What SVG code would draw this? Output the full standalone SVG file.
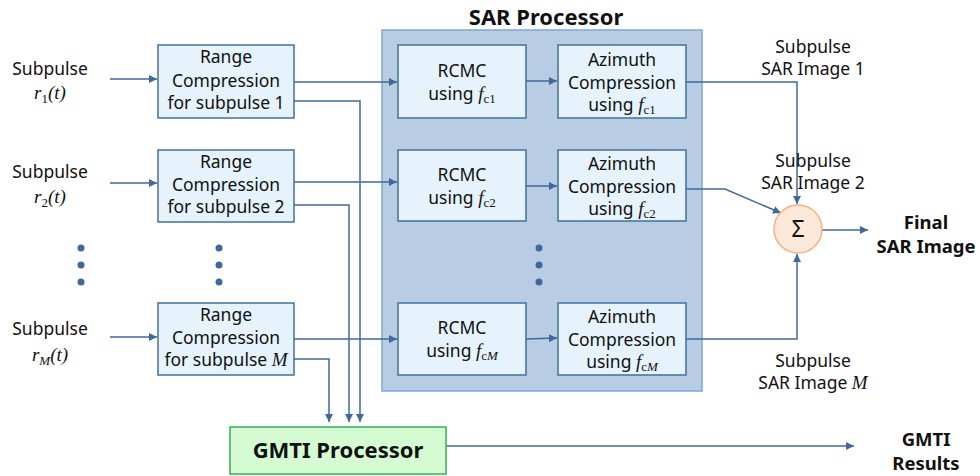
<svg xmlns="http://www.w3.org/2000/svg" width="980" height="476" viewBox="0 0 980 476">
<defs>
<marker id="ah" viewBox="0 0 10 10" refX="10" refY="5" markerWidth="8" markerHeight="8" markerUnits="userSpaceOnUse" orient="auto">
<path d="M0,0 L10,5 L0,10 z" fill="#41689c"/>
</marker>
</defs>
<style>
text{font-family:"Noto Sans","DejaVu Sans",sans-serif;font-size:17.5px;fill:#111;text-anchor:middle}
.b{font-weight:bold}
.o{font-size:18.5px}
.m{font-family:"Liberation Serif","DejaVu Serif",serif;font-style:italic;font-size:19px}
.s{font-family:"Liberation Serif","DejaVu Serif",serif;font-style:normal;font-size:13px}
.box{fill:#e6f3fc;stroke:#41719c;stroke-width:1.5}
.c{fill:none;stroke:#41689c;stroke-width:1.5}
.dot{fill:#41689c}
</style>
<rect width="980" height="476" fill="#fff"/>
<g id="sar-processor">
<rect x="382" y="30" width="320" height="361" fill="#b8cce4" stroke="#7ea6d8" stroke-width="1.5"/>
<text x="546" y="25" class="b" style="font-size:22px">SAR Processor</text>
</g>
<g id="connectors">
<path class="c" d="M110,79 H157" marker-end="url(#ah)"/>
<path class="c" d="M110,183 H157" marker-end="url(#ah)"/>
<path class="c" d="M110,337 H157" marker-end="url(#ah)"/>
<path class="c" d="M294,82 H397" marker-end="url(#ah)"/>
<path class="c" d="M294,182 H397" marker-end="url(#ah)"/>
<path class="c" d="M294,339 H397" marker-end="url(#ah)"/>
<path class="c" d="M294,101 H360 V422" marker-end="url(#ah)"/>
<path class="c" d="M294,205 H349 V422" marker-end="url(#ah)"/>
<path class="c" d="M294,359 H329 V422" marker-end="url(#ah)"/>
<path class="c" d="M526,81 H557" marker-end="url(#ah)"/>
<path class="c" d="M526,186 H557" marker-end="url(#ah)"/>
<path class="c" d="M526,339 L557,338" marker-end="url(#ah)"/>
<path class="c" d="M686,82 H797 V204" marker-end="url(#ah)"/>
<path class="c" d="M686,189 H725 L781,213" marker-end="url(#ah)"/>
<path class="c" d="M686,339 H797 V254" marker-end="url(#ah)"/>
<path class="c" d="M822,230 H868" marker-end="url(#ah)"/>
<path class="c" d="M446,446 H854" marker-end="url(#ah)"/>
</g>
<g id="input-labels">
<text x="50" y="75">Subpulse</text>
<text x="50" y="99" class="m">r<tspan class="s" dy="4">1</tspan><tspan dy="-4">(t)</tspan></text>
<text x="50" y="178">Subpulse</text>
<text x="50" y="203" class="m">r<tspan class="s" dy="4">2</tspan><tspan dy="-4">(t)</tspan></text>
<text x="50" y="335">Subpulse</text>
<text x="50" y="361" class="m">r<tspan class="s" dy="4" style="font-style:italic">M</tspan><tspan dy="-4">(t)</tspan></text>
</g>
<g id="dots">
<circle class="dot" cx="81" cy="248" r="3.5"/><circle class="dot" cx="81" cy="265" r="3.5"/><circle class="dot" cx="81" cy="282" r="3.5"/>
<circle class="dot" cx="219" cy="248" r="3.5"/><circle class="dot" cx="219" cy="265" r="3.5"/><circle class="dot" cx="219" cy="282" r="3.5"/>
<circle class="dot" cx="539" cy="248" r="3.5"/><circle class="dot" cx="539" cy="265" r="3.5"/><circle class="dot" cx="539" cy="282" r="3.5"/>
</g>
<g id="range-1">
<rect class="box" x="158" y="45" width="136" height="73"/>
<text x="226" y="63">Range</text><text x="226" y="87">Compression</text><text x="226" y="109">for subpulse  1</text>
</g>
<g id="range-2">
<rect class="box" x="158" y="150" width="136" height="72"/>
<text x="226" y="168">Range</text><text x="226" y="191">Compression</text><text x="226" y="213">for subpulse  2</text>
</g>
<g id="range-M">
<rect class="box" x="158" y="303" width="136" height="72"/>
<text x="226" y="321">Range</text><text x="226" y="344">Compression</text><text x="226" y="366">for subpulse  <tspan class="m">M</tspan></text>
</g>
<g id="rcmc-1">
<rect class="box" x="398" y="45" width="128" height="73"/>
<text x="462" y="77">RCMC</text>
<text x="462" y="100">using <tspan class="m">f</tspan><tspan class="s" dy="3">c1</tspan></text>
</g>
<g id="rcmc-2">
<rect class="box" x="398" y="150" width="128" height="71"/>
<text x="462" y="181">RCMC</text>
<text x="462" y="204">using <tspan class="m">f</tspan><tspan class="s" dy="3">c2</tspan></text>
</g>
<g id="rcmc-M">
<rect class="box" x="398" y="303" width="128" height="72"/>
<text x="462" y="334">RCMC</text>
<text x="462" y="357">using <tspan class="m">f</tspan><tspan class="s" dy="3">c<tspan style="font-style:italic">M</tspan></tspan></text>
</g>
<g id="azimuth-1">
<rect class="box" x="558" y="45" width="128" height="73"/>
<text x="622" y="66">Azimuth</text><text x="622" y="89">Compression</text>
<text x="622" y="111">using <tspan class="m">f</tspan><tspan class="s" dy="3">c1</tspan></text>
</g>
<g id="azimuth-2">
<rect class="box" x="558" y="150" width="128" height="71"/>
<text x="622" y="170">Azimuth</text><text x="622" y="193">Compression</text>
<text x="622" y="215">using <tspan class="m">f</tspan><tspan class="s" dy="3">c2</tspan></text>
</g>
<g id="azimuth-M">
<rect class="box" x="558" y="303" width="128" height="72"/>
<text x="622" y="323">Azimuth</text><text x="622" y="346">Compression</text>
<text x="622" y="368">using <tspan class="m">f</tspan><tspan class="s" dy="3">c<tspan style="font-style:italic">M</tspan></tspan></text>
</g>
<g id="sum">
<circle cx="798" cy="229" r="24" fill="#fde9d9" stroke="#f4b183" stroke-width="1.5"/>
<text x="798" y="237" style="font-size:23px">Σ</text>
</g>
<g id="output-labels">
<text x="813" y="53">Subpulse</text><text x="813" y="75">SAR Image 1</text>
<text x="813" y="167">Subpulse</text><text x="813" y="189">SAR Image 2</text>
<text x="813" y="367">Subpulse</text><text x="813" y="389">SAR Image <tspan class="m">M</tspan></text>
<text x="926" y="229" class="b o">Final</text><text x="926" y="253" class="b o">SAR Image</text>
<text x="926" y="446" class="b o">GMTI</text><text x="926" y="470" class="b o">Results</text>
</g>
<g id="gmti-processor">
<rect x="230" y="427" width="216" height="47" fill="#d5fbd3" stroke="#33b04f" stroke-width="1.5"/>
<text x="338" y="458" class="b" style="font-size:22px">GMTI Processor</text>
</g>
</svg>
